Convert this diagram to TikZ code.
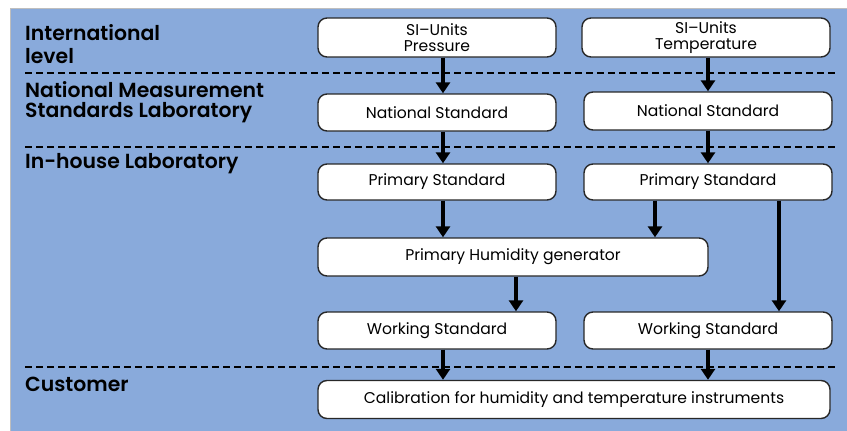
\documentclass[tikz,border=0pt]{standalone}
\usepackage{fontspec}
\setmainfont{Poppins}
\newfontfamily\labelfont{Poppins SemiBold}
\usetikzlibrary{arrows.meta}
\definecolor{panelblue}{RGB}{137,170,219}
\definecolor{boxline}{RGB}{40,40,40}
\definecolor{edgegray}{RGB}{190,190,190}
\begin{document}
\begin{tikzpicture}[x=1pt,y=-1pt,
  stdbox/.style={draw=boxline, line width=1.4pt, fill=white, rounded corners=9pt,
    inner sep=0pt, align=center, font=\fontsize{15.6}{16}\selectfont},
  levellabel/.style={anchor=base west, inner sep=0pt, font=\fontsize{20.4}{21}\selectfont\labelfont},
  flow/.style={line width=4.2pt, -{Triangle[width=14pt,length=11pt]}},
  divider/.style={line width=2.6pt, dash pattern=on 7pt off 4pt}]

  % page and panel
  \useasboundingbox (0,0) rectangle (847,431);
  \fill[white] (0,0) rectangle (847,431);
  \fill[panelblue] (10,8) rectangle (847,431);
  \draw[edgegray, line width=1pt] (10,431) -- (10,8) -- (847,8);

  % level dividers
  \draw[divider] (25,73) -- (836,73);
  \draw[divider] (25,147) -- (836,147);
  \draw[divider] (25,367) -- (836,367);

  % level labels
  \node[levellabel] (intl1) at (25,41) {International};
  \node[levellabel] (intl2) at (25,63) {level};
  \node[levellabel] (nmsl1) at (25,97) {National Measurement};
  \node[levellabel] (nmsl2) at (25,117) {Standards Laboratory};
  \node[levellabel] (inhouse) at (25,168) {In-house Laboratory};
  \node[levellabel] (customer) at (25,391) {Customer};

  % boxes
  \node[stdbox, minimum width=238pt, minimum height=39pt] (sip) at (437,37.5) {SI–Units\\Pressure};
  \node[stdbox, minimum width=248pt, minimum height=39pt] (sit) at (706,37.5) {SI–Units\\Temperature};
  \node[stdbox, minimum width=238pt, minimum height=37pt] (nsp) at (437,112.5) {National Standard};
  \node[stdbox, minimum width=248pt, minimum height=38pt] (nst) at (708,111) {National Standard};
  \node[stdbox, minimum width=238pt, minimum height=36pt] (psp) at (437,182) {Primary Standard};
  \node[stdbox, minimum width=248pt, minimum height=36pt] (pst) at (708,182) {Primary Standard};
  \node[stdbox, minimum width=390pt, minimum height=38pt] (phg) at (513,257) {Primary Humidity generator};
  \node[stdbox, minimum width=238pt, minimum height=37pt] (wsp) at (437,330.5) {Working Standard};
  \node[stdbox, minimum width=248pt, minimum height=37pt] (wst) at (708,330.5) {Working Standard};
  \node[stdbox, minimum width=512pt, minimum height=38pt] (cal) at (574,399.5) {Calibration for humidity and temperature instruments};

  % traceability arrows
  \draw[flow] ([xshift=6pt]sip.south) -- ([xshift=6pt]sip.south |- nsp.north);
  \draw[flow] ([xshift=2pt]sit.south) -- ([xshift=2pt]sit.south |- nst.north);
  \draw[flow] ([xshift=6pt]nsp.south) -- ([xshift=6pt]nsp.south |- psp.north);
  \draw[flow] (nst.south) -- (nst.south |- pst.north);
  \draw[flow] ([xshift=6pt]psp.south) -- ([xshift=6pt]psp.south |- phg.north);
  \draw[flow] ([xshift=-53pt]pst.south) -- ([xshift=-53pt]pst.south |- phg.north);
  \draw[flow] ([xshift=71pt]pst.south) -- ([xshift=71pt]pst.south |- wst.north);
  \draw[flow] ([xshift=3pt]phg.south) -- ([xshift=3pt]phg.south |- wsp.north);
  \draw[flow] ([xshift=6pt]wsp.south) -- ([xshift=6pt]wsp.south |- cal.north);
  \draw[flow] (wst.south) -- (wst.south |- cal.north);
\end{tikzpicture}
\end{document}
